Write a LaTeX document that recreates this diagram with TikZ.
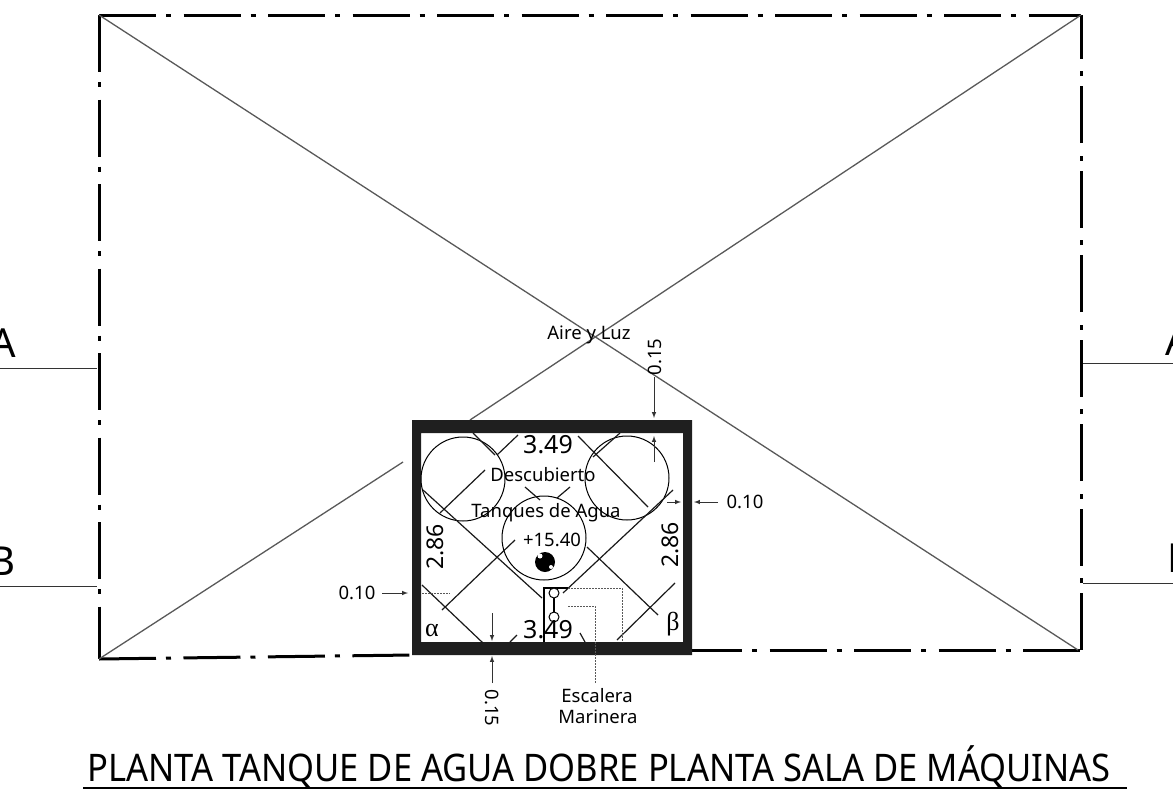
\documentclass[tikz,border=0pt]{standalone}
\usepackage{fontspec}
\setmainfont{Noto Sans}
\newfontfamily\greekfont{Liberation Serif}
\newfontfamily\titlefont[FakeStretch=0.909]{Noto Sans}
\usetikzlibrary{arrows}
\tikzset{
  outline/.style={line width=3pt,dash pattern=on 57pt off 10pt on 5pt off 12.5pt},
  diag/.style={line width=1.3pt,color=black!65},
  hatch/.style={line width=1.2pt,color=black!90},
  leader/.style={line width=1pt,color=black!80},
  thin dotted line/.style={line width=1pt,color=black!65,dash pattern=on 2pt off 1pt},
  small label/.style={inner sep=0pt,font=\fontsize{18.5}{20}\selectfont},
  big label/.style={inner sep=0pt,font=\fontsize{25}{27}\selectfont},
  depth label/.style={inner sep=0pt,rotate=90,font=\fontsize{23}{25}\selectfont},
  greek label/.style={inner sep=0pt,font=\greekfont\fontsize{26}{28}\selectfont},
  section label/.style={inner sep=0pt,font=\fontsize{40}{44}\selectfont}
}
\begin{document}
\begin{tikzpicture}[x=1pt,y=-1pt,>=latex]
      \useasboundingbox (0,0) rectangle (1173,795);
      %% outer outline
      \draw [outline] (99,15)-- (1081,15);
      \draw [outline] (99,15)-- (99,659);
      \draw [outline] (99,659)-- (412,655);
      \draw [outline,dash phase=7pt] (692,650)-- (1081,650);
      \draw [outline] (1081,650)-- (1081,15);
      %% diagonals
      \draw [diag] (99,15)-- (1078,650);
      \draw [diag] (1081,15)-- (470,420);
      \draw [diag] (403,462)-- (99,659);
      %% section lines
      \draw [leader] (0,368)-- (97,368);
      \draw [leader] (0,586)-- (97,586);
      \draw [leader] (1083,363)-- (1173,363);
      \draw [leader] (1083,583)-- (1173,583);
      \node [section label,anchor=east] (secAleft) at (16,343) {A};
      \node [section label,anchor=east] (secBleft) at (16,561) {B};
      \node [section label,anchor=west] (secAright) at (1165,341) {A};
      \node [section label,anchor=west] (secBright) at (1167,558) {B};
      %% tank walls
      \fill [black!88,even odd rule] (412,420) rectangle (692,655) (421,433) rectangle (683,642);
      %% tanks
      \draw [line width=1pt] (463,479) circle (42);
      \draw [line width=1pt] (627,478) circle (42);
      \draw [line width=1pt] (544,538) circle (42);
      \fill (545,562) circle (10);
      \fill [white] (540,556) circle (2.5);
      \fill [white] (551,567) circle (2);
      %% hatching
      \draw [hatch] (518,435)-- (497,455);
      \draw [hatch] (485,470)-- (440,513);
      \draw [hatch] (620,433)-- (593,457);
      \draw [hatch] (570,487)-- (557,498);
      \draw [hatch] (515,540)-- (442,610);
      \draw [hatch] (673,490)-- (563,593);
      \draw [hatch] (517,635)-- (510,642);
      \draw [hatch] (473,433)-- (495,455);
      \draw [hatch] (525,487)-- (540,500);
      \draw [hatch] (587,547)-- (658,615);
      \draw [hatch] (578,436)-- (648,507);
      \draw [hatch] (423,490)-- (542,598);
      \draw [hatch] (580,633)-- (585,642);
      \draw [hatch] (422,585)-- (483,643);
      \draw [hatch] (675,583)-- (617,640);
      %% stair
      \draw [line width=1.2pt] (544,642)-- (544,588)-- (568,588);
      \draw [thin dotted line] (568,588)-- (622,588)-- (622,642);
      \draw [thin dotted line] (568,606)-- (595,606)-- (595,683);
      \draw [line width=1.2pt] (554,598)-- (554,612);
      \draw [line width=1pt,fill=white] (554,593) circle (5);
      \draw [line width=1pt,fill=white] (554,617) circle (5);
      %% dimensions
      \draw [leader,->] (654,377)-- (654,418);
      \draw [leader,->] (654,462)-- (654,436);
      \draw [leader,->] (718,502)-- (694,502);
      \draw [leader,->] (667,502)-- (681,502);
      \draw [leader,->] (382,593)-- (408,593);
      \draw [thin dotted line] (422,593)-- (450,593);
      \draw [leader,->] (492,613)-- (492,641);
      \draw [leader,->] (492,683)-- (492,656);
      \node [small label] (lblAire) at (589,335) {Aire y Luz};
      \node [small label,rotate=90] (dimTop) at (655,357) {0.15};
      \node [small label] (dimRight) at (745,502) {0.10};
      \node [small label] (dimLeft) at (357,593) {0.10};
      \node [small label,rotate=-90] (dimBottom) at (492,708) {0.15};
      \node [small label] (lblDesc) at (543,475) {Descubierto};
      \node [small label] (lblTanques) at (546,513) {Tanques de Agua};
      \node [small label] (lblCota) at (552,540) {+15.40};
      \node [small label] (lblEsc) at (597,696) {Escalera};
      \node [small label] (lblMar) at (598,717) {Marinera};
      \node [big label] (widthTop) at (548,445) {3.49};
      \node [big label] (widthBottom) at (548,630) {3.49};
      \node [depth label] (depthLeft) at (435,547) {2.86};
      \node [depth label] (depthRight) at (670,545) {2.86};
      \node [greek label] (lblAlpha) at (432,630) {α};
      \node [greek label] (lblBeta) at (673,624) {β};
      %% title
      \node [inner sep=0pt,anchor=base west,font=\titlefont\fontsize{38}{42}\selectfont] (title) at (87,781) {PLANTA TANQUE DE AGUA DOBRE PLANTA SALA DE MÁQUINAS};
      \draw [line width=1.5pt] (83,788)-- (1127,788);
  \end{tikzpicture}
\end{document}
